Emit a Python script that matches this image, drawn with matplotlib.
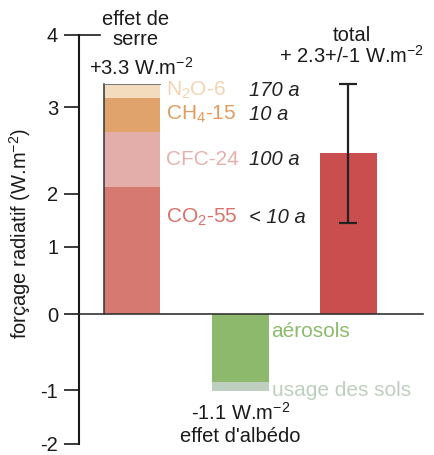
import numpy as np
import matplotlib.pyplot as plt
import matplotlib.transforms as mtransforms

plt.rcParams['font.family'] = ['Liberation Sans', 'DejaVu Sans']
plt.rcParams['mathtext.fontset'] = 'custom'
plt.rcParams['mathtext.rm'] = 'Liberation Sans'
plt.rcParams['mathtext.it'] = 'Liberation Sans:italic'
plt.rcParams['mathtext.default'] = 'rm'

# greenhouse gases (stacked, W.m-2)
ghg_names = ['CO$_2$-55', 'CFC-24', 'CH$_4$-15', 'N$_2$O-6']
ghg_values = [1.82, 0.79, 0.49, 0.20]
ghg_life = ['< 10 a', '100 a', '10 a', '170 a']
ghg_colors = ['#d67970', '#e3adaa', '#e0a36c', '#f3dbbe']
ghg_text = ['#d9716a', '#e8b0ad', '#e09b5e', '#f3d4b2']

# albedo effect (stacked downwards)
alb_names = ['aérosols', 'usage des sols']
alb_values = [-0.98, -0.12]
alb_colors = ['#8cb96c', '#bfcfbf']
alb_text = ['#8cbb6c', '#bdd0bd']

total_value = 2.3
total_err = 1.0

# tick marks sit on a hand-drawn scale, not evenly spaced
tick_pos = [4, 2.96, 1.72, 0.964, 0, -1.09, -1.86]
tick_labels = ['4', '3', '2', '1', '0', '-1', '-2']

FS = 14.5
width = 0.525

fig = plt.figure(figsize=(4.35, 4.55), dpi=100)
ax = fig.add_axes([0.1816, 0.003, 0.8184, 0.9665])
ax.set_xlim(-0.489, 2.799)
ax.set_ylim(-2, 4.3)

# greenhouse stack
bottom = 0
mids = []
for v, c in zip(ghg_values, ghg_colors):
    ax.bar(0, v, width, bottom=bottom, color=c, linewidth=0, zorder=2)
    mids.append(bottom + v / 2)
    bottom += v
ghg_total = bottom
x0, x1 = -width / 2, width / 2
ax.plot([x0, x0], [0, ghg_total], color='#333333', lw=1.1, zorder=3)
ax.plot([x0, x1], [ghg_total, ghg_total], color='#777777', lw=0.7, zorder=3)

# albedo stack
bottom = 0
for v, c in zip(alb_values, alb_colors):
    ax.bar(1, v, width, bottom=bottom, color=c, linewidth=0, zorder=2)
    bottom += v
alb_total = bottom

# total with uncertainty
ax.bar(2, total_value, width, color='#cb4e4f', linewidth=0, zorder=2)
ax.errorbar(2, total_value, yerr=total_err, color='#222222', lw=1.6,
            capsize=6.5, capthick=1.6, zorder=4)

# zero line
ax.plot([-0.489, 2.69], [0, 0], color='#333333', lw=1.2, zorder=3)

# axis styling
for s in ['top', 'right', 'bottom']:
    ax.spines[s].set_visible(False)
ax.spines['left'].set_bounds(tick_pos[-1], tick_pos[0])
ax.spines['left'].set_linewidth(1.5)
ax.spines['left'].set_color('#1a1a1a')
ax.set_xticks([])
ax.set_yticks(tick_pos)
ax.set_yticklabels(tick_labels)
ax.tick_params(axis='y', length=11, width=1.2, pad=4, labelsize=FS,
               color='#1a1a1a', labelcolor='#1a1a1a')
trans = mtransforms.blended_transform_factory(ax.transAxes, ax.transData)
ax.plot([0, 0.059], [4, 4], color='#1a1a1a', lw=1.2, transform=trans,
        clip_on=False)

ax.set_ylabel('forçage radiatif (W.m$^{-2}$)', fontsize=FS, color='#1a1a1a')
ax.yaxis.set_label_coords(-0.129, 0.5)

# greenhouse labels
label_y = [1.39, mids[1], mids[2], mids[3]]
for name, life, y, c in zip(ghg_names, ghg_life, label_y, ghg_text):
    ax.text(0.31, y, name, color=c, fontsize=15, ha='left', va='center')
    ax.text(1.085, y, life, color='#222222', fontsize=FS, style='italic',
            ha='left', va='center')

ax.text(0.03, 4.08, 'effet de\nserre', ha='center', va='center',
        fontsize=FS, linespacing=1.05, color='#1a1a1a')
ax.text(0.083, 3.52, '+%.1f W.m$^{-2}$' % ghg_total, ha='center',
        va='center', fontsize=FS, color='#1a1a1a')

# albedo labels
ax.text(1.29, -0.255, alb_names[0], color=alb_text[0], fontsize=15,
        ha='left', va='center')
ax.text(1.29, alb_total, alb_names[1], color=alb_text[1], fontsize=15,
        ha='left', va='center')
ax.text(1.0, -1.575, '%.1f W.m$^{-2}$\neffet d\'albédo' % alb_total,
        ha='center', va='center', fontsize=FS, linespacing=1.2,
        color='#1a1a1a')

# total labels
ax.text(2.03, 3.83, 'total\n+ %.1f+/-%g W.m$^{-2}$' % (total_value, total_err),
        ha='center', va='center', fontsize=FS, linespacing=1.0,
        color='#1a1a1a')

fig.savefig('out.png', dpi=100)
